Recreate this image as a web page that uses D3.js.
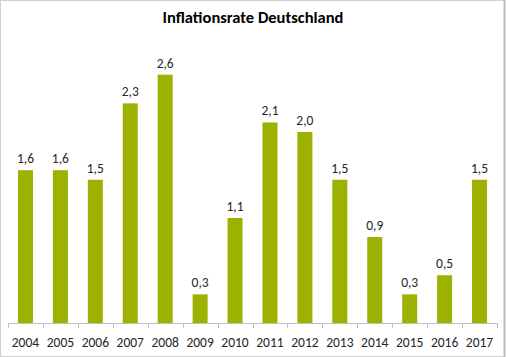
<!DOCTYPE html>
<html><head><meta charset="utf-8">
<script src="https://cdn.jsdelivr.net/npm/d3@7"></script>
<style>body{margin:0;background:#fff;}svg{display:block;}</style>
</head><body>
<script>
const years = ["2004","2005","2006","2007","2008","2009","2010","2011","2012","2013","2014","2015","2016","2017"];
const rates = [1.6,1.6,1.5,2.3,2.6,0.3,1.1,2.1,2.0,1.5,0.9,0.3,0.5,1.5];
const title = "Inflationsrate Deutschland";

const W = 506, H = 357;
const svg = d3.select("body").append("svg").attr("width", W).attr("height", H);
// frame
svg.append("rect").attr("x",0.5).attr("y",0.5).attr("width",W-2).attr("height",H-1)
  .attr("fill","#fff").attr("stroke","#d0d0d0");
svg.append("line").attr("x1",W-1.5).attr("x2",W-1.5).attr("y1",0).attr("y2",H)
  .attr("stroke","#bdbdbd").attr("stroke-width",2);

const font = "Carlito, Lato, 'Open Sans', sans-serif";
svg.append("text").attr("x",253).attr("y",23).attr("text-anchor","middle")
  .attr("font-family",font).attr("font-weight","bold").attr("font-size",16.5)
  .attr("fill","#000").text(title);

const x = d3.scaleBand().domain(years).range([8,497]).paddingInner(0.57).paddingOuter(0.285);
const y = d3.scaleLinear().domain([0,3]).range([323,36.5]);

svg.selectAll("rect.bar").data(years).enter().append("rect").attr("class","bar")
  .attr("x",d=>x(d)).attr("width",x.bandwidth())
  .attr("y",(d,i)=>y(rates[i])).attr("height",(d,i)=>y(0)-y(rates[i]))
  .attr("fill","#9db200");

svg.selectAll("text.val").data(years).enter().append("text").attr("class","val")
  .attr("x",d=>x(d)+x.bandwidth()/2).attr("y",(d,i)=>y(rates[i])-7)
  .attr("text-anchor","middle").attr("font-family",font).attr("font-size",13.5)
  .attr("fill","#262626").text((d,i)=>rates[i].toFixed(1).replace(".",","));

// axis
const ax = svg.append("g");
ax.append("line").attr("x1",8).attr("x2",497).attr("y1",323.5).attr("y2",323.5).attr("stroke","#bfbfbf");
const bounds = d3.range(years.length+1).map(i=>8+i*(489/years.length));
ax.selectAll("line.t").data(bounds).enter().append("line").attr("class","t")
  .attr("x1",d=>Math.round(d)+0.5).attr("x2",d=>Math.round(d)+0.5).attr("y1",323).attr("y2",328)
  .attr("stroke","#bfbfbf");
ax.selectAll("text").data(years).enter().append("text")
  .attr("x",d=>x(d)+x.bandwidth()/2).attr("y",347).attr("text-anchor","middle")
  .attr("font-family",font).attr("font-size",13.5).attr("fill","#262626").text(d=>d);
</script>
</body></html>
